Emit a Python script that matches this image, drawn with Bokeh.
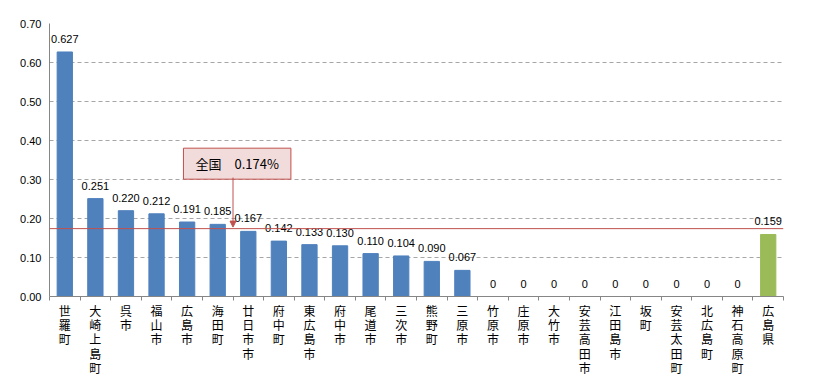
from bokeh.plotting import figure
from bokeh.models import (ColumnDataSource, FixedTicker, NumeralTickFormatter, Span,
                          Label, LabelSet, Arrow, NormalHead, Range1d)
from bokeh.core.properties import value
from bokeh.embed import file_html
from bokeh.resources import INLINE

categories = ["世羅町", "大崎上島町", "呉市", "福山市", "広島市", "海田町", "廿日市市", "府中町",
              "東広島市", "府中市", "尾道市", "三次市", "熊野町", "三原市", "竹原市", "庄原市",
              "大竹市", "安芸高田市", "江田島市", "坂町", "安芸太田町", "北広島町", "神石高原町", "広島県"]
values = [0.627, 0.251, 0.220, 0.212, 0.191, 0.185, 0.167, 0.142, 0.133, 0.130, 0.110, 0.104,
          0.090, 0.067, 0, 0, 0, 0, 0, 0, 0, 0, 0, 0.159]
national = 0.174
y_ticks = [0.0, 0.1, 0.2, 0.3, 0.4, 0.5, 0.6, 0.7]

BLUE = "#4f81bd"
GREEN = "#9bbb59"
RED = "#c0504d"

n = len(categories)
xs = [i + 0.5 for i in range(n)]
colors = [GREEN if c == "広島県" else BLUE for c in categories]
labels = ["0" if v == 0 else f"{v:.3f}" for v in values]

src = ColumnDataSource(dict(x=xs, top=values, color=colors, label=labels))

p = figure(frame_width=734, frame_height=273, output_backend="svg", toolbar_location=None,
           x_range=Range1d(0, n), y_range=Range1d(0, 0.70),
           min_border_left=49, min_border_right=22, min_border_top=23, min_border_bottom=10)
p.outline_line_color = None
p.background_fill_color = "white"

p.vbar(x="x", top="top", width=0.5, color="color", source=src)

p.add_layout(LabelSet(x="x", y="top", text="label", source=src, text_align="center",
                      text_baseline="bottom", y_offset=9, text_font_size=value("11px"),
                      text_font=value("Liberation Sans"), text_color="black"))

p.add_layout(Span(location=national, dimension="width", line_color=RED, line_width=1))

# axes
p.yaxis.ticker = FixedTicker(ticks=y_ticks)
p.yaxis.formatter = NumeralTickFormatter(format="0.00")
p.yaxis.major_tick_out = 0
p.yaxis.major_tick_in = 0
p.yaxis.minor_tick_line_color = None
p.yaxis.axis_line_color = "#868686"
p.yaxis.major_label_text_font = "Liberation Sans"
p.yaxis.major_label_text_font_size = "11px"
p.yaxis.major_label_text_color = "black"
p.yaxis.major_label_standoff = 8

p.xaxis.ticker = FixedTicker(ticks=xs, minor_ticks=list(range(n + 1)))
p.xaxis.major_label_overrides = {x: "\n".join(c) for x, c in zip(xs, categories)}
p.xaxis.major_tick_line_color = None
p.xaxis.major_tick_out = 0
p.xaxis.major_tick_in = 0
p.xaxis.minor_tick_line_color = "#868686"
p.xaxis.minor_tick_out = 4
p.xaxis.minor_tick_in = 0
p.xaxis.axis_line_color = "#868686"
p.xaxis.major_label_text_font = "Noto Sans CJK JP"
p.xaxis.major_label_text_font_size = "12px"
p.xaxis.major_label_text_line_height = 0.85
p.xaxis.major_label_text_color = "black"
p.xaxis.major_label_standoff = 1

p.xgrid.grid_line_color = None
p.ygrid.ticker = FixedTicker(ticks=y_ticks[1:])
p.ygrid.grid_line_color = "#a6a6a6"
p.ygrid.grid_line_dash = "4 3"

p.add_layout(Label(x=0, y=0.70, x_offset=-6, y_offset=6, text="%", text_font_size="11px",
                   text_font="Liberation Sans", text_color="black"))

# national average callout
p.add_layout(Label(x=4.38, y=0.338, x_offset=0, y_offset=1, text="全国\u30000.174%",
                   text_font="Noto Sans CJK JP",
                   text_font_size="13px", text_color="black", text_baseline="middle",
                   background_fill_color="#f2dcdb", border_line_color=RED,
                   padding=(12, 6)))
p.add_layout(Arrow(end=NormalHead(size=6, fill_color=RED, line_color=RED),
                   x_start=6.0, y_start=0.305, x_end=6.0, y_end=national + 0.004,
                   line_color=RED, line_width=1))

open("out.html", "w").write(file_html(p, INLINE))
